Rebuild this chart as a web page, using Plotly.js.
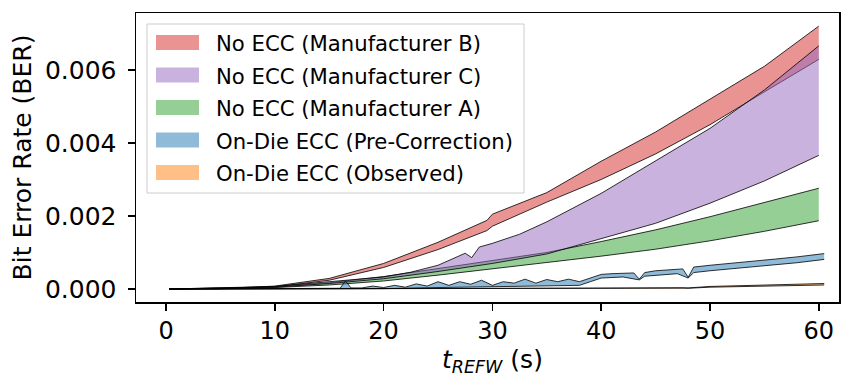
<!DOCTYPE html>
<html>
<head>
<meta charset="utf-8">
<script src="https://cdn.plot.ly/plotly-3.0.1.min.js"></script>
<style>html,body{margin:0;padding:0;background:#fff;}#chart{width:847px;height:376px;}</style>
</head>
<body>
<div id="chart"></div>
<script>
// ---- data (BER values) ----
const seriesNames = ["No ECC (Manufacturer B)", "No ECC (Manufacturer C)", "No ECC (Manufacturer A)", "On-Die ECC (Pre-Correction)", "On-Die ECC (Observed)"];
const xTitle = "<i>t</i><sub><i>REFW</i></sub> (s)";
const yTitle = "Bit Error Rate (BER)";
const xTicks = [0, 10, 20, 30, 40, 50, 60];
const yTicks = [0, 0.002, 0.004, 0.006];

// Manufacturer B (red)
const tB    = [0.3, 5, 10, 15, 20, 25, 29.5, 30, 35, 40, 45, 50, 55, 60];
const bHigh = [0, 0.00001, 0.00008, 0.00029, 0.00070, 0.00128, 0.00188, 0.00205, 0.00264, 0.0035, 0.0043, 0.0052, 0.0061, 0.0072];
const bLow  = [0, 0.000005, 0.00006, 0.00024, 0.00059, 0.00108, 0.00160, 0.00172, 0.00238, 0.0030, 0.0037, 0.0045, 0.0054, 0.00629];

// Manufacturer C (purple)
const tCHigh = [0.3, 10, 15, 18, 20, 22.5, 25, 27.5, 28.1, 28.8, 30, 32.5, 35, 40, 45, 50, 55, 60];
const cHigh  = [0, 0.00007, 0.0002, 0.00027, 0.00033, 0.00046, 0.00065, 0.00098, 0.00086, 0.00115, 0.00125, 0.0015, 0.00184, 0.00262, 0.0035, 0.0044, 0.00545, 0.00666];
const tCLow  = [0.3, 10, 15, 20, 25, 30, 35, 40, 45, 50, 55, 60];
const cLow   = [0, 0.00005, 0.00015, 0.00028, 0.00048, 0.00070, 0.00096, 0.00138, 0.0018, 0.00235, 0.00296, 0.00366];

// Manufacturer A (green)
const tA    = [0.3, 10, 15, 20, 25, 30, 35, 40, 45, 50, 55, 60];
const aHigh = [0, 0.00006, 0.00017, 0.00034, 0.00056, 0.00078, 0.001, 0.0013, 0.00162, 0.00198, 0.00236, 0.00276];
const aLow  = [0, 0.00004, 0.00011, 0.00022, 0.00038, 0.00055, 0.00073, 0.0009, 0.00109, 0.00132, 0.00158, 0.00187];

// On-Die ECC pre-correction (blue)
const tPHigh = [0.3, 5, 10, 15, 16, 16.5, 17, 18, 19, 20, 21, 22, 23, 24, 25, 26, 27, 28, 29, 30, 31, 32, 33, 34, 35, 36, 37, 38, 39, 40, 41, 42, 43, 43.5, 44, 45, 46, 47, 47.5, 48, 48.5, 50, 52, 54, 56, 58, 60.5];
const pHigh  = [0, 0.000005, 0.00001, 0.00002, 0.00002, 0.00022, 0.00003, 0.00003, 0.00008, 0.00004, 0.0001, 0.00005, 0.00014, 0.00008, 0.0002, 0.0001, 0.0002, 0.00013, 0.00024, 0.0001, 0.0002, 0.00016, 0.00027, 0.00016, 0.00026, 0.0002, 0.00027, 0.0002, 0.0003, 0.0004, 0.00042, 0.00043, 0.00044, 0.00027, 0.00045, 0.0005, 0.00052, 0.00053, 0.00055, 0.00032, 0.0006, 0.00065, 0.0007, 0.00075, 0.00082, 0.00088, 0.00097];
const tPLow  = [0.3, 15, 20, 25, 30, 35, 38, 39, 40, 42, 43.5, 44, 47, 48, 48.5, 50, 54, 58, 60.5];
const pLow   = [0, 0, 0.00001, 0.00004, 0.00006, 0.00008, 0.0001, 0.0002, 0.0003, 0.00033, 0.00025, 0.00035, 0.00042, 0.0003, 0.00045, 0.0005, 0.0006, 0.00072, 0.00081];

// On-Die ECC observed (orange)
const tO    = [0.3, 10, 20, 30, 40, 47.5, 48, 50, 55, 60.5];
const oHigh = [0, 0.000005, 0.00001, 0.00002, 0.00003, 0.00004, 0.00003, 0.00007, 0.0001, 0.00015];
const oLow  = [0, 0, 0, 0.00001, 0.00002, 0.00003, 0.00002, 0.00005, 0.00008, 0.00011];

// ---- styling ----
const fills = {
  B: "rgba(214,39,40,0.5)",
  C: "rgba(148,103,189,0.5)",
  A: "rgba(44,160,44,0.5)",
  P: "rgba(31,119,180,0.5)",
  O: "rgba(255,127,14,0.5)"
};
const legendColors = [fills.B, fills.C, fills.A, fills.P, fills.O];
const edge = {color: "#000", width: 0.8};

function band(tLo, lo, tHi, hi, name, color) {
  return [
    {x: tLo, y: lo, type: "scatter", mode: "lines", line: edge, showlegend: false, hoverinfo: "skip"},
    {x: tHi, y: hi, type: "scatter", mode: "lines", fill: "tonexty", fillcolor: color,
     line: {color: color, width: 0}, name: name, showlegend: false, hoverinfo: "skip"},
    {x: tHi, y: hi, type: "scatter", mode: "lines", line: edge, showlegend: false, hoverinfo: "skip"}
  ];
}

const data = [].concat(
  band(tB, bLow, tB, bHigh, seriesNames[0], fills.B),
  band(tA, aLow, tA, aHigh, seriesNames[2], fills.A),
  band(tCLow, cLow, tCHigh, cHigh, seriesNames[1], fills.C),
  band(tPLow, pLow, tPHigh, pHigh, seriesNames[3], fills.P),
  band(tO, oLow, tO, oHigh, seriesNames[4], fills.O)
);

// ---- legend drawn as shapes + annotations (pixel layout converted to paper coords) ----
const M = {l: 136, r: 8, t: 13, b: 74};
const W = 847, H = 376;
const PW = W - M.l - M.r, PH = H - M.t - M.b;
const px = v => (v - M.l) / PW;
const py = v => (H - M.b - v) / PH;
const font = "DejaVu Sans, sans-serif";

const shapes = [{
  type: "rect", xref: "paper", yref: "paper", layer: "above",
  x0: px(147), x1: px(524), y0: py(193), y1: py(24),
  fillcolor: "rgba(255,255,255,0.8)", line: {color: "#cccccc", width: 1}
}];
const annotations = [];
seriesNames.forEach((name, i) => {
  const cy = 42.5 + i * 32.5;
  shapes.push({
    type: "rect", xref: "paper", yref: "paper", layer: "above",
    x0: px(156), x1: px(199), y0: py(cy + 7.5), y1: py(cy - 7.5),
    fillcolor: legendColors[i], line: {width: 0}
  });
  annotations.push({
    text: name, xref: "paper", yref: "paper", x: px(214), y: py(cy + 1),
    xanchor: "left", yanchor: "middle", showarrow: false,
    font: {family: font, size: 21.2, color: "#000"}
  });
});
// x-axis title (annotation so it can sit near the bottom edge)
annotations.push({
  text: xTitle, xref: "paper", yref: "paper", x: px(493), y: py(361),
  xanchor: "center", yanchor: "middle", showarrow: false,
  font: {family: font, size: 25, color: "#000"}
});

const layout = {
  width: W, height: H,
  margin: M,
  paper_bgcolor: "#fff", plot_bgcolor: "#fff",
  font: {family: font, color: "#000"},
  showlegend: false,
  shapes: shapes,
  annotations: annotations,
  xaxis: {
    range: [-2.76, 61.86],
    tickvals: xTicks,
    ticks: "outside", ticklen: 7, tickwidth: 1.5, tickcolor: "#000",
    showline: true, linecolor: "#000", linewidth: 1.5, mirror: true,
    showgrid: false, zeroline: false,
    tickfont: {family: font, size: 24, color: "#000"}
  },
  yaxis: {
    range: [-0.000356, 0.00756],
    tickvals: yTicks,
    tickformat: ".3f",
    ticks: "outside", ticklen: 7, tickwidth: 1.5, tickcolor: "#000",
    showline: true, linecolor: "#000", linewidth: 1.5, mirror: true,
    showgrid: false, zeroline: false,
    ticklabelstandoff: 6,
    tickfont: {family: font, size: 25, color: "#000"},
    title: {text: yTitle, font: {family: font, size: 25, color: "#000"}, standoff: 6}
  }
};

Plotly.newPlot("chart", data, layout, {displayModeBar: false, staticPlot: true});
</script>
</body>
</html>
